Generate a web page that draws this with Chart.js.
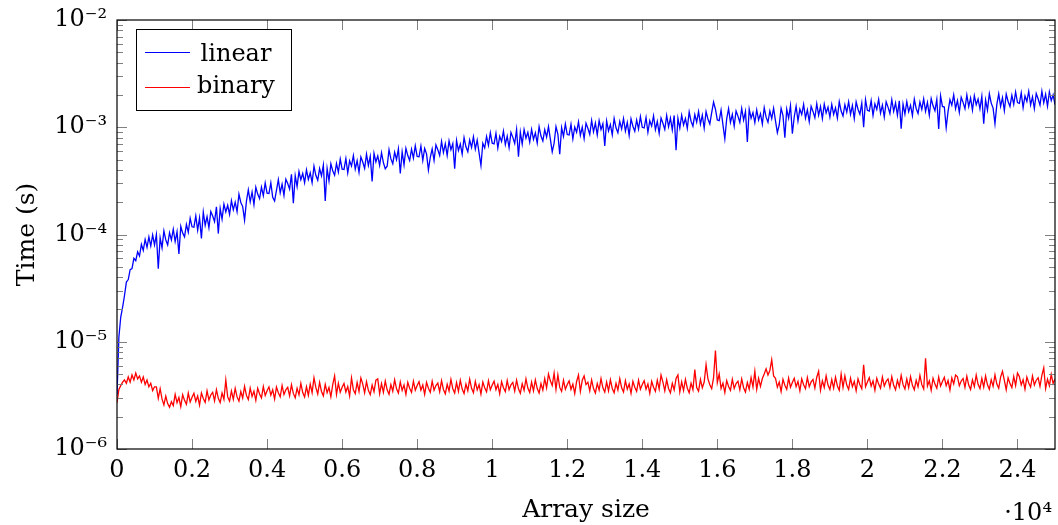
<!DOCTYPE html>
<html>
<head>
<meta charset="utf-8">
<script src="https://cdn.jsdelivr.net/npm/chart.js@4.4.0/dist/chart.umd.min.js"></script>
<style>
  body { margin: 0; background: #fff; }
  #wrap { width: 1058px; height: 525px; }
</style>
</head>
<body>
<div id="wrap"><canvas id="grafico"></canvas></div>
<script>
// array sizes (x)
const sizes = [
  0, 50, 100, 150, 200, 250, 300, 350, 400, 450, 500, 550, 600, 650, 700, 750, 800, 850, 900, 950, 1000,
  1050, 1100, 1150, 1200, 1250, 1300, 1350, 1400, 1450, 1500, 1550, 1600, 1650, 1700, 1750, 1800, 1850, 1900, 1950, 2000,
  2050, 2100, 2150, 2200, 2250, 2300, 2350, 2400, 2450, 2500, 2550, 2600, 2650, 2700, 2750, 2800, 2850, 2900, 2950, 3000,
  3050, 3100, 3150, 3200, 3250, 3300, 3350, 3400, 3450, 3500, 3550, 3600, 3650, 3700, 3750, 3800, 3850, 3900, 3950, 4000,
  4050, 4100, 4150, 4200, 4250, 4300, 4350, 4400, 4450, 4500, 4550, 4600, 4650, 4700, 4750, 4800, 4850, 4900, 4950, 5000,
  5050, 5100, 5150, 5200, 5250, 5300, 5350, 5400, 5450, 5500, 5550, 5600, 5650, 5700, 5750, 5800, 5850, 5900, 5950, 6000,
  6050, 6100, 6150, 6200, 6250, 6300, 6350, 6400, 6450, 6500, 6550, 6600, 6650, 6700, 6750, 6800, 6850, 6900, 6950, 7000,
  7050, 7100, 7150, 7200, 7250, 7300, 7350, 7400, 7450, 7500, 7550, 7600, 7650, 7700, 7750, 7800, 7850, 7900, 7950, 8000,
  8050, 8100, 8150, 8200, 8250, 8300, 8350, 8400, 8450, 8500, 8550, 8600, 8650, 8700, 8750, 8800, 8850, 8900, 8950, 9000,
  9050, 9100, 9150, 9200, 9250, 9300, 9350, 9400, 9450, 9500, 9550, 9600, 9650, 9700, 9750, 9800, 9850, 9900, 9950, 10000,
  10050, 10100, 10150, 10200, 10250, 10300, 10350, 10400, 10450, 10500, 10550, 10600, 10650, 10700, 10750, 10800, 10850, 10900, 10950, 11000,
  11050, 11100, 11150, 11200, 11250, 11300, 11350, 11400, 11450, 11500, 11550, 11600, 11650, 11700, 11750, 11800, 11850, 11900, 11950, 12000,
  12050, 12100, 12150, 12200, 12250, 12300, 12350, 12400, 12450, 12500, 12550, 12600, 12650, 12700, 12750, 12800, 12850, 12900, 12950, 13000,
  13050, 13100, 13150, 13200, 13250, 13300, 13350, 13400, 13450, 13500, 13550, 13600, 13650, 13700, 13750, 13800, 13850, 13900, 13950, 14000,
  14050, 14100, 14150, 14200, 14250, 14300, 14350, 14400, 14450, 14500, 14550, 14600, 14650, 14700, 14750, 14800, 14850, 14900, 14950, 15000,
  15050, 15100, 15150, 15200, 15250, 15300, 15350, 15400, 15450, 15500, 15550, 15600, 15650, 15700, 15750, 15800, 15850, 15900, 15950, 16000,
  16050, 16100, 16150, 16200, 16250, 16300, 16350, 16400, 16450, 16500, 16550, 16600, 16650, 16700, 16750, 16800, 16850, 16900, 16950, 17000,
  17050, 17100, 17150, 17200, 17250, 17300, 17350, 17400, 17450, 17500, 17550, 17600, 17650, 17700, 17750, 17800, 17850, 17900, 17950, 18000,
  18050, 18100, 18150, 18200, 18250, 18300, 18350, 18400, 18450, 18500, 18550, 18600, 18650, 18700, 18750, 18800, 18850, 18900, 18950, 19000,
  19050, 19100, 19150, 19200, 19250, 19300, 19350, 19400, 19450, 19500, 19550, 19600, 19650, 19700, 19750, 19800, 19850, 19900, 19950, 20000,
  20050, 20100, 20150, 20200, 20250, 20300, 20350, 20400, 20450, 20500, 20550, 20600, 20650, 20700, 20750, 20800, 20850, 20900, 20950, 21000,
  21050, 21100, 21150, 21200, 21250, 21300, 21350, 21400, 21450, 21500, 21550, 21600, 21650, 21700, 21750, 21800, 21850, 21900, 21950, 22000,
  22050, 22100, 22150, 22200, 22250, 22300, 22350, 22400, 22450, 22500, 22550, 22600, 22650, 22700, 22750, 22800, 22850, 22900, 22950, 23000,
  23050, 23100, 23150, 23200, 23250, 23300, 23350, 23400, 23450, 23500, 23550, 23600, 23650, 23700, 23750, 23800, 23850, 23900, 23950, 24000,
  24050, 24100, 24150, 24200, 24250, 24300, 24350, 24400, 24450, 24500, 24550, 24600, 24650, 24700, 24750, 24800, 24850, 24900, 24950, 25000
];

// linear search time, microseconds
const linearUs = [
  3.2, 11, 17, 21, 27, 36, 38, 47, 48, 60, 57, 69, 63, 81, 71, 90, 76, 95, 78, 99, 80,
  100, 48, 93, 75, 108, 89, 80, 104, 89, 112, 86, 106, 66, 119, 103, 95, 124, 105, 142, 118,
  117, 149, 110, 143, 92, 162, 122, 147, 116, 164, 149, 132, 181, 102, 175, 139, 192, 162, 187, 154,
  207, 170, 200, 163, 238, 199, 182, 136, 205, 261, 202, 249, 190, 276, 238, 216, 276, 230, 302, 243,
  241, 303, 222, 205, 258, 325, 245, 295, 232, 328, 299, 265, 364, 196, 354, 280, 386, 324, 371, 304,
  401, 326, 376, 304, 433, 356, 321, 412, 352, 444, 205, 413, 316, 456, 393, 357, 459, 382, 505, 406,
  404, 511, 375, 486, 435, 544, 407, 487, 380, 528, 474, 414, 562, 441, 534, 312, 570, 475, 541, 440,
  580, 468, 410, 433, 618, 507, 457, 585, 500, 631, 370, 588, 446, 637, 544, 490, 624, 515, 672, 534,
  530, 669, 491, 634, 565, 400, 525, 627, 491, 685, 618, 544, 738, 581, 702, 546, 747, 619, 704, 410,
  752, 607, 697, 561, 800, 657, 592, 760, 648, 815, 625, 758, 576, 440, 710, 642, 820, 679, 889, 710,
  700, 878, 640, 822, 736, 921, 689, 826, 644, 896, 805, 705, 954, 530, 899, 697, 952, 790, 896, 727,
  955, 770, 885, 711, 1012, 828, 744, 950, 809, 1014, 774, 590, 709, 1013, 865, 560, 992, 821, 1074, 855,
  847, 1065, 780, 1005, 899, 1123, 840, 1003, 782, 1089, 978, 857, 1159, 907, 1093, 848, 1154, 954, 1078, 670,
  1145, 923, 1058, 850, 1207, 988, 887, 1134, 964, 1206, 920, 1111, 840, 1198, 1021, 918, 1167, 963, 1256, 998,
  984, 1231, 897, 1150, 1025, 1275, 950, 1131, 879, 1219, 1091, 953, 1289, 1010, 1219, 945, 1289, 610, 1212, 983,
  1296, 1049, 1207, 974, 1388, 1138, 1024, 1313, 1117, 1400, 1070, 1293, 979, 1400, 1194, 1074, 1367, 1720, 1472, 1170,
  1153, 1444, 1052, 780, 1199, 1491, 1109, 1319, 1025, 1420, 1271, 1109, 1495, 1167, 1402, 730, 1472, 1214, 1372, 1107,
  1452, 1168, 1338, 1073, 1521, 1242, 1113, 1419, 1206, 1507, 1149, 890, 1050, 1503, 1284, 800, 1475, 1219, 1594, 870,
  1253, 1571, 1147, 1473, 1313, 1635, 1219, 1453, 1130, 1568, 1405, 1227, 1657, 1294, 1557, 1205, 1642, 1358, 1537, 1244,
  1635, 1319, 1514, 1217, 1730, 1416, 1271, 1624, 1382, 1730, 1321, 1595, 1206, 1724, 1471, 1322, 1682, 1000, 1809, 1438,
  1417, 1772, 1290, 1653, 1469, 1824, 1354, 1609, 1247, 1726, 1541, 1342, 1805, 1405, 1683, 1298, 1762, 970, 1640, 1324,
  1735, 1395, 1599, 1283, 1826, 1496, 1345, 1722, 1468, 1842, 1410, 1707, 1294, 1853, 1583, 1427, 1819, 965, 1965, 1565,
  1543, 990, 1408, 1806, 1608, 2000, 1489, 1771, 1375, 1906, 1706, 1488, 2004, 1562, 1874, 1446, 1967, 1624, 1835, 1483,
  1947, 1080, 1798, 1444, 2052, 1679, 1507, 1080, 1635, 2047, 1563, 1887, 1427, 2038, 1738, 1562, 1986, 1638, 2135, 1697,
  1672, 2093, 1525, 1957, 1742, 2166, 1612, 1918, 1489, 2063, 1846, 1610, 2170, 1693, 2033, 1571, 2140, 1772, 2006, 1625
];

// binary search time, microseconds
const binaryUs = [
  2.7, 3.6, 3.9, 4.2, 4.4, 4.1, 4.7, 4.2, 4.9, 4.4, 5.1, 4.5, 4.8, 4.2, 4.7, 4.0, 4.4, 3.8, 4.1, 3.5, 3.8,
  3.80, 2.97, 3.65, 2.93, 2.58, 3.11, 2.65, 2.45, 2.76, 2.54, 3.23, 2.70, 3.02, 2.48, 3.21, 2.84, 2.61, 3.32, 2.74, 3.04,
  3.31, 2.78, 3.12, 2.57, 3.33, 2.96, 2.72, 3.48, 2.87, 3.19, 3.37, 2.81, 3.57, 2.97, 2.71, 3.33, 2.90, 4.4, 3.06, 2.80,
  3.48, 2.90, 3.68, 3.06, 2.80, 3.44, 2.99, 3.84, 3.16, 2.89, 3.69, 3.09, 3.46, 2.84, 3.69, 3.26, 3.00, 3.82, 3.15, 3.50,
  3.80, 3.18, 3.57, 2.92, 3.78, 3.35, 3.07, 3.91, 3.22, 3.57, 3.76, 3.13, 3.97, 3.30, 3.00, 3.69, 3.20, 4.10, 3.36, 3.06,
  3.81, 3.17, 4.02, 3.35, 4.6, 3.75, 3.26, 4.18, 3.44, 3.13, 4.00, 3.35, 3.75, 3.07, 3.98, 4.8, 3.23, 4.11, 3.39, 3.76,
  4.08, 3.40, 3.82, 3.12, 4.6, 3.57, 3.28, 4.17, 3.44, 4.6, 4.03, 3.34, 4.24, 3.52, 3.21, 3.94, 3.42, 4.38, 4.5, 3.28,
  4.08, 3.38, 4.30, 3.56, 3.24, 3.99, 3.46, 4.42, 3.64, 3.32, 4.23, 3.52, 3.95, 3.23, 4.18, 3.69, 3.38, 4.29, 3.53, 3.91,
  4.24, 3.53, 3.95, 3.23, 4.18, 3.69, 3.38, 4.29, 3.53, 3.91, 4.12, 3.42, 4.33, 3.59, 3.27, 4.01, 3.48, 4.45, 3.65, 3.33,
  4.16, 3.45, 4.37, 3.62, 3.29, 4.04, 3.50, 4.48, 3.68, 3.35, 4.27, 3.56, 3.98, 3.26, 4.21, 3.72, 3.41, 4.33, 3.56, 3.94,
  4.29, 3.58, 4.00, 3.27, 4.24, 3.73, 3.43, 4.35, 3.58, 3.97, 4.18, 3.47, 4.39, 3.64, 3.31, 4.06, 3.52, 4.50, 3.70, 3.37,
  4.20, 3.48, 4.41, 3.66, 3.33, 4.08, 3.54, 4.53, 3.72, 5.0, 4.32, 3.9, 5.1, 3.6, 4.9, 3.75, 3.44, 4.37, 3.60, 3.99,
  4.32, 3.60, 4.02, 3.29, 4.26, 4.9, 3.44, 4.37, 4.8, 3.99, 4.20, 3.48, 4.41, 3.66, 3.33, 4.08, 3.54, 4.53, 3.72, 3.39,
  4.21, 3.49, 4.42, 3.67, 3.34, 4.09, 3.55, 4.54, 3.72, 3.40, 4.33, 3.61, 4.04, 3.30, 4.27, 3.76, 3.45, 4.38, 3.61, 4.00,
  4.33, 3.61, 4.04, 3.30, 4.27, 3.76, 3.45, 4.38, 3.61, 4.9, 4.21, 3.49, 4.42, 3.67, 3.34, 4.09, 3.55, 4.54, 4.9, 3.40,
  4.23, 3.51, 4.45, 3.69, 3.35, 4.11, 3.57, 5.5, 3.74, 3.46, 4.46, 3.72, 4.21, 6.1, 4.51, 3.98, 3.65, 4.63, 8.3, 4.17,
  5.0, 3.67, 4.11, 3.36, 4.35, 3.83, 3.52, 4.46, 3.67, 4.07, 4.29, 3.56, 4.50, 3.73, 3.40, 4.17, 3.61, 4.62, 3.79, 5.3,
  3.60, 4.56, 3.83, 4.54, 5.0, 5.6, 4.9, 5.4, 6.8, 4.8, 4.57, 3.77, 4.21, 3.44, 4.46, 3.93, 3.60, 4.58, 3.77, 4.17,
  4.57, 3.81, 4.26, 3.49, 4.51, 3.98, 3.65, 4.63, 3.81, 4.22, 4.45, 3.69, 4.67, 5.3, 3.53, 4.33, 3.75, 4.80, 3.94, 3.59,
  4.45, 3.69, 4.67, 3.87, 3.53, 5.0, 3.75, 4.80, 3.94, 3.59, 4.57, 3.81, 4.26, 3.49, 4.51, 3.98, 3.65, 6.1, 3.81, 4.22,
  4.63, 3.86, 4.32, 3.53, 4.57, 4.03, 3.69, 4.69, 3.86, 4.27, 4.50, 3.74, 4.73, 3.92, 3.57, 4.38, 3.80, 4.86, 3.98, 3.63,
  4.50, 3.74, 4.73, 3.92, 3.57, 4.38, 3.80, 4.86, 3.98, 3.63, 7.0, 3.86, 4.32, 3.53, 4.57, 4.03, 3.69, 4.69, 3.86, 4.27,
  4.66, 3.89, 4.35, 3.55, 4.60, 4.05, 4.9, 4.72, 3.89, 4.31, 4.54, 3.76, 4.77, 3.95, 3.59, 4.41, 3.82, 4.89, 4.01, 3.66,
  4.56, 3.78, 4.79, 3.97, 3.61, 4.43, 3.84, 4.91, 4.03, 3.68, 4.68, 5.3, 4.37, 3.57, 4.62, 4.07, 3.74, 4.75, 3.91, 5.1,
  4.74, 3.95, 4.42, 3.61, 4.68, 4.12, 3.78, 4.80, 3.95, 4.38, 4.61, 3.83, 4.85, 5.7, 3.66, 4.48, 3.89, 4.97, 4.08, 4.5
];

const seriesNames = ['linear', 'binary'];
const seriesColors = ['#0000ff', '#ff0000'];

const xTickValues = [0, 2000, 4000, 6000, 8000, 10000, 12000, 14000, 16000, 18000, 20000, 22000, 24000];
const xTickLabels = ['0', '0.2', '0.4', '0.6', '0.8', '1', '1.2', '1.4', '1.6', '1.8', '2', '2.2', '2.4'];
const yTickValues = [1e-6, 1e-5, 1e-4, 1e-3, 1e-2];
const yTickLabels = ['10⁻⁶', '10⁻⁵', '10⁻⁴', '10⁻³', '10⁻²'];
const minorMult = [2, 3, 4, 5, 6, 7, 8, 9];

const FONT = '"DejaVu Serif", serif';

// pgfplots-like frame, inner ticks, legend box
const pgfAxes = {
  id: 'pgfAxes',
  afterDatasetsDraw(chart) {
    const { ctx, chartArea: a, scales: { x, y } } = chart;
    ctx.save();

    ctx.strokeStyle = '#808080';
    ctx.lineWidth = 1;
    ctx.beginPath();
    xTickValues.forEach(v => {
      const px = Math.round(x.getPixelForValue(v)) + 0.5;
      ctx.moveTo(px, a.bottom); ctx.lineTo(px, a.bottom - 10);
      ctx.moveTo(px, a.top); ctx.lineTo(px, a.top + 10);
    });
    yTickValues.forEach((v, i) => {
      const py = Math.round(y.getPixelForValue(v)) + 0.5;
      ctx.moveTo(a.left, py); ctx.lineTo(a.left + 10, py);
      ctx.moveTo(a.right, py); ctx.lineTo(a.right - 10, py);
      if (i < yTickValues.length - 1) {
        minorMult.forEach(m => {
          const q = Math.round(y.getPixelForValue(v * m)) + 0.5;
          ctx.moveTo(a.left, q); ctx.lineTo(a.left + 6, q);
          ctx.moveTo(a.right, q); ctx.lineTo(a.right - 6, q);
        });
      }
    });
    ctx.stroke();

    ctx.strokeStyle = '#000';
    ctx.lineWidth = 1.2;
    ctx.strokeRect(a.left, a.top, a.right - a.left, a.bottom - a.top);

    // legend
    const lx = 136.5, ly = 29.5, lw = 155, lh = 81;
    ctx.fillStyle = '#fff';
    ctx.fillRect(lx, ly, lw, lh);
    ctx.lineWidth = 1;
    ctx.strokeRect(lx, ly, lw, lh);
    ctx.font = '24px ' + FONT;
    ctx.textAlign = 'center';
    ctx.textBaseline = 'alphabetic';
    chart.data.datasets.forEach((ds, i) => {
      const yy = 52 + i * 35;
      ctx.strokeStyle = ds.borderColor;
      ctx.lineWidth = 1;
      ctx.beginPath();
      ctx.moveTo(145, yy + 0.5); ctx.lineTo(190, yy + 0.5);
      ctx.stroke();
      ctx.fillStyle = '#000';
      ctx.fillText(ds.label, 236, 61 + i * 32);
    });

    // x scale factor
    ctx.textAlign = 'right';
    ctx.font = '24px ' + FONT;
    ctx.fillText('·10⁴', 1052, 520);
    ctx.restore();
  }
};

const ctx = document.getElementById('grafico');

const chart = new Chart(ctx, {
  type: 'line',
  data: {
    datasets: [
      {
        label: seriesNames[0],
        data: sizes.map((n, i) => ({ x: n, y: linearUs[i] / 1e6 })),
        borderColor: seriesColors[0],
        borderWidth: 1.3,
        pointRadius: 0,
        tension: 0,
        fill: false
      },
      {
        label: seriesNames[1],
        data: sizes.map((n, i) => ({ x: n, y: binaryUs[i] / 1e6 })),
        borderColor: seriesColors[1],
        borderWidth: 1.3,
        pointRadius: 0,
        tension: 0,
        fill: false
      }
    ]
  },
  options: {
    animation: false,
    responsive: true,
    maintainAspectRatio: false,
    events: [],
    layout: { padding: { top: 20, right: 3, left: 0, bottom: 0 } },
    plugins: { legend: { display: false }, tooltip: { enabled: false } },
    scales: {
      x: {
        type: 'linear',
        min: 0,
        max: 25000,
        grid: { display: false, drawTicks: false },
        border: { display: false },
        afterBuildTicks: s => { s.ticks = xTickValues.map(v => ({ value: v })); },
        afterFit: s => { s.height = 76; s.paddingLeft = 0; s.paddingRight = 0; },
        ticks: {
          autoSkip: false,
          maxRotation: 0,
          padding: 7,
          color: '#000',
          font: { family: FONT, size: 24 },
          callback: (v, i) => xTickLabels[i]
        },
        title: {
          display: true,
          text: 'Array size',
          color: '#000',
          font: { family: FONT, size: 25 },
          padding: { top: 0, bottom: 0 }
        }
      },
      y: {
        type: 'logarithmic',
        min: 1e-6,
        max: 1e-2,
        grid: { display: false, drawTicks: false },
        border: { display: false },
        afterBuildTicks: s => { s.ticks = yTickValues.map(v => ({ value: v })); },
        afterFit: s => { s.width = 117; s.paddingTop = 0; s.paddingBottom = 0; },
        ticks: {
          autoSkip: false,
          padding: 10,
          color: '#000',
          font: { family: FONT, size: 24 },
          callback: (v, i) => yTickLabels[i]
        },
        title: {
          display: true,
          text: 'Time (s)',
          color: '#000',
          font: { family: FONT, size: 25 },
          padding: { top: 12, bottom: 0 }
        }
      }
    }
  },
  plugins: [pgfAxes]
});
</script>
</body>
</html>
